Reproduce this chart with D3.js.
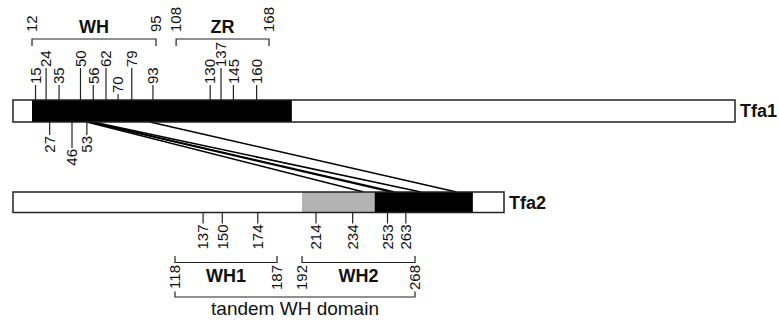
<!DOCTYPE html>
<html>
<head>
<meta charset="utf-8">
<script src="https://cdn.jsdelivr.net/npm/d3@7"></script>
<style>
  body { margin: 0; background: #fff; }
  text { font-family: "Liberation Sans", Arial, sans-serif; fill: #111; }
</style>
</head>
<body>
<div id="chart"></div>
<script>
// residue numbers
const tfa1Span = [1, 474];
const tfa1Core = [12, 183];
const tfa2Span = [16, 328];
const tfa2Grey = [192, 246];
const tfa2Black = [246, 307];

// marked residues on Tfa1 (level = how far the label sits from the bar)
const tfa1TopTicks = [15, 24, 35, 50, 56, 62, 70, 79, 93, 130, 137, 145, 160];
const tfa1TopLevels = [1, 2, 1, 2, 1, 2, 0, 2, 1, 1, 2, 1, 1];
const tfa1BottomTicks = [27, 46, 53];
const tfa1BottomLevels = [1, 2, 1];

// marked residues on Tfa2
const tfa2Ticks = [137, 150, 174, 214, 234, 253, 263];

// domains
const tfa1DomainNames = ["WH", "ZR"];
const tfa1DomainStart = [12, 108];
const tfa1DomainEnd = [95, 168];
const tfa2DomainNames = ["WH1", "WH2"];
const tfa2DomainStart = [118, 192];
const tfa2DomainEnd = [187, 268];
const tandemName = "tandem WH domain";
const tandemSpan = [118, 268];

// lines joining Tfa1 to Tfa2
const linkFrom = [53, 54, 55, 56, 91];
const linkTo = [240, 255, 257, 272, 296];

const width = 779;
const height = 322;

const svg = d3.select("#chart")
  .append("svg")
    .attr("width", width)
    .attr("height", height);

// the drawing is schematic, not to scale: crowded stretches are widened,
// so each protein gets a piecewise linear scale
const x1 = d3.scaleLinear()
  .domain([tfa1Span[0], tfa1DomainStart[0], 46, 62, tfa1DomainEnd[0], tfa1DomainEnd[1], tfa1Span[1]])
  .range([13, 32, 72, 106, 156, 269, 735]);
const x2 = d3.scaleLinear()
  .domain([tfa2Span[0], tfa2DomainStart[0], tfa2DomainEnd[0], tfa2DomainStart[1], 214, tfa2DomainEnd[1], tfa2Span[1]])
  .range([13, 175, 277, 302, 316, 415, 504]);

const bar1Top = 100, bar1H = 22;
const bar2Top = 192, bar2H = 20.5;
const topGap = [6, 15, 32];
const bottomGap = [6, 13, 26];

// connector lines first so the bars sit on top
svg.selectAll(".link")
  .data(linkFrom)
  .join("line")
    .attr("class", "link")
    .attr("x1", d => x1(d))
    .attr("y1", bar1Top + bar1H)
    .attr("x2", (d, i) => x2(linkTo[i]))
    .attr("y2", bar2Top)
    .attr("stroke", "#000")
    .attr("stroke-width", 1.6);

// draws a protein bar with its filled regions
function drawBar(x, span, top, h, fills, name) {
  const g = svg.append("g");
  g.append("rect")
    .attr("x", x(span[0]))
    .attr("y", top)
    .attr("width", x(span[1]) - x(span[0]))
    .attr("height", h)
    .attr("fill", "#fff");
  g.selectAll(".fill")
    .data(fills)
    .join("rect")
      .attr("x", d => x(d.r[0]))
      .attr("y", top)
      .attr("width", d => x(d.r[1]) - x(d.r[0]))
      .attr("height", h)
      .attr("fill", d => d.c);
  g.append("rect")
    .attr("x", x(span[0]))
    .attr("y", top)
    .attr("width", x(span[1]) - x(span[0]))
    .attr("height", h)
    .attr("fill", "none")
    .attr("stroke", "#222")
    .attr("stroke-width", 1.5);
  g.append("text")
    .attr("x", x(span[1]) + 5)
    .attr("y", top + h / 2)
    .attr("dy", "0.35em")
    .attr("font-size", 18)
    .attr("font-weight", "bold")
    .text(name);
}

drawBar(x1, tfa1Span, bar1Top, bar1H, [{ r: tfa1Core, c: "#000" }], "Tfa1");
drawBar(x2, tfa2Span, bar2Top, bar2H, [{ r: tfa2Grey, c: "#b3b3b3" }, { r: tfa2Black, c: "#000" }], "Tfa2");

// rotated number label
function vLabel(g, x, y, anchor, txt) {
  g.append("text")
    .attr("transform", `translate(${x},${y}) rotate(-90)`)
    .attr("dy", "0.35em")
    .attr("text-anchor", anchor)
    .attr("font-size", 15)
    .text(txt);
}

// ticks above Tfa1
const topTicks = svg.append("g");
tfa1TopTicks.forEach((d, i) => {
  const yEnd = bar1Top - topGap[tfa1TopLevels[i]];
  topTicks.append("line")
    .attr("x1", x1(d)).attr("x2", x1(d))
    .attr("y1", bar1Top).attr("y2", yEnd)
    .attr("stroke", "#222").attr("stroke-width", 1.2);
  vLabel(topTicks, x1(d), yEnd - 1, "start", d);
});

// ticks below Tfa1
const bottomTicks = svg.append("g");
tfa1BottomTicks.forEach((d, i) => {
  const yEnd = bar1Top + bar1H + bottomGap[tfa1BottomLevels[i]];
  bottomTicks.append("line")
    .attr("x1", x1(d)).attr("x2", x1(d))
    .attr("y1", bar1Top + bar1H).attr("y2", yEnd)
    .attr("stroke", "#222").attr("stroke-width", 1.2);
  vLabel(bottomTicks, x1(d), yEnd + 1, "end", d);
});

// ticks below Tfa2
const tfa2TickG = svg.append("g");
tfa2Ticks.forEach(d => {
  const y0 = bar2Top + bar2H;
  tfa2TickG.append("line")
    .attr("x1", x2(d)).attr("x2", x2(d))
    .attr("y1", y0).attr("y2", y0 + 11)
    .attr("stroke", "#222").attr("stroke-width", 1.2);
  vLabel(tfa2TickG, x2(d), y0 + 12, "end", d);
});

// bracket helper: line at yLine, legs reaching to yLeg
function bracket(g, xa, xb, yLine, yLeg) {
  g.append("path")
    .attr("d", `M${xa},${yLeg}V${yLine}H${xb}V${yLeg}`)
    .attr("fill", "none")
    .attr("stroke", "#222")
    .attr("stroke-width", 1.2);
}

// Tfa1 domain brackets
const topBr = svg.append("g");
tfa1DomainNames.forEach((name, i) => {
  const a = x1(tfa1DomainStart[i]), b = x1(tfa1DomainEnd[i]);
  bracket(topBr, a, b, 39, 46);
  vLabel(topBr, a, 32, "start", tfa1DomainStart[i]);
  vLabel(topBr, b, 32, "start", tfa1DomainEnd[i]);
  topBr.append("text")
    .attr("x", (a + b) / 2)
    .attr("y", 33)
    .attr("text-anchor", "middle")
    .attr("font-size", 18)
    .attr("font-weight", "bold")
    .text(name);
});

// Tfa2 domain brackets
const botBr = svg.append("g");
tfa2DomainNames.forEach((name, i) => {
  const a = x2(tfa2DomainStart[i]), b = x2(tfa2DomainEnd[i]);
  bracket(botBr, a, b, 262.5, 256);
  vLabel(botBr, a, 265, "end", tfa2DomainStart[i]);
  vLabel(botBr, b, 265, "end", tfa2DomainEnd[i]);
  botBr.append("text")
    .attr("x", (a + b) / 2)
    .attr("y", 282)
    .attr("text-anchor", "middle")
    .attr("font-size", 18)
    .attr("font-weight", "bold")
    .text(name);
});

// tandem bracket
bracket(botBr, x2(tandemSpan[0]), x2(tandemSpan[1]), 297, 291.5);
botBr.append("text")
  .attr("x", (x2(tandemSpan[0]) + x2(tandemSpan[1])) / 2)
  .attr("y", 315)
  .attr("text-anchor", "middle")
  .attr("font-size", 19)
  .text(tandemName);
</script>
</body>
</html>
